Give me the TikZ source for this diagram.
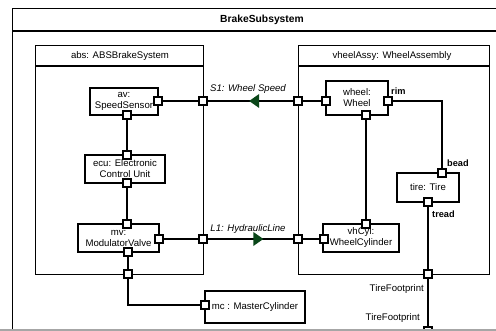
\documentclass[tikz,border=0pt]{standalone}
\usepackage{fontspec}
\setmainfont{Liberation Sans}
\usetikzlibrary{shapes.geometric}
\definecolor{arrowgreen}{RGB}{10,70,25}
\begin{document}
\begin{tikzpicture}[x=1pt,y=-1pt,
  txt/.style={font=\fontsize{9.6}{11}\selectfont, inner sep=0pt},
  lbl/.style={font=\fontsize{9.6}{11}\selectfont\itshape, inner sep=0pt},
  bl/.style={font=\fontsize{9.2}{11}\selectfont\bfseries, inner sep=0pt},
  partbox/.style={draw, line width=1.4pt, fill=white, inner sep=0pt, align=center,
                  font=\fontsize{9.6}{11}\selectfont},
  frame/.style={draw, line width=1.3pt, inner sep=0pt},
  port/.style={draw, line width=1.1pt, fill=white, minimum size=8pt, inner sep=0pt},
  wire/.style={line width=1.3pt},
  flow/.style={isosceles triangle, isosceles triangle apex angle=70, fill=arrowgreen,
               minimum height=10pt, minimum width=10pt, inner sep=0pt}]
\useasboundingbox (0,0) rectangle (496,331);
\clip (0,0) rectangle (496,331);
% outer frame
\node[frame, minimum width=520pt, minimum height=360pt, anchor=north west] (outer) at (12,8) {};
\draw[line width=1.3pt] (12,31) -- (496,31);
\node[font=\fontsize{10.3}{12}\selectfont\bfseries, inner sep=0pt] (title) at (262,20) {BrakeSubsystem};
% abs container
\node[frame, minimum width=168pt, minimum height=229pt, anchor=north west] (abs) at (35,45) {};
\draw[line width=1.3pt] (35,66) -- (203,66);
\node[txt] (abst) at (120,56) {abs: ABSBrakeSystem};
% wheelAssy container
\node[frame, minimum width=191pt, minimum height=229pt, anchor=north west] (wa) at (298,45) {};
\draw[line width=1.3pt] (298,66) -- (489,66);
\node[txt] (wat) at (392,56) {vheelAssy: WheelAssembly};
% parts
\node[partbox, minimum width=68pt, minimum height=27pt] (av) at (124,101.5) {av:\\SpeedSensor};
\node[partbox, minimum width=80pt, minimum height=28pt] (ecu) at (125,169) {ecu: Electronic\\Control Unit};
\node[partbox, minimum width=81pt, minimum height=28pt] (mv) at (118.5,238) {mv:\\ModulatorValve};
\node[partbox, minimum width=100pt, minimum height=32pt] (mc) at (255,307) {mc : MasterCylinder};
\node[partbox, minimum width=62pt, minimum height=34pt] (wheel) at (357,98) {wheel:\\Wheel};
\node[partbox, minimum width=62pt, minimum height=29pt] (tire) at (428,187.5) {tire: Tire};
\node[partbox, minimum width=76pt, minimum height=28pt] (whcyl) at (361,238) {vhCyl:\\WheelCylinder};
% ports
\node[port] (avr) at (158,101) {};
\node[port] (avb) at (127,115) {};
\node[port] (ecut) at (127,155) {};
\node[port] (ecub) at (127,183) {};
\node[port] (mvt) at (127,224) {};
\node[port] (mvr) at (159,239) {};
\node[port] (mvb) at (128,252) {};
\node[port] (absr1) at (203,101) {};
\node[port] (absr2) at (203,239) {};
\node[port] (absb) at (128,274) {};
\node[port] (mcp) at (205,305) {};
\node[port] (wal1) at (298,101) {};
\node[port] (wal2) at (298,239) {};
\node[port] (wab) at (428,274) {};
\node[port] (whl) at (326,101) {};
\node[port] (rim) at (388,101) {};
\node[port] (whb) at (366,115) {};
\node[port] (cylt) at (366,224) {};
\node[port] (cyll) at (324,239) {};
\node[port] (bead) at (442,173) {};
\node[port] (tread) at (428,202) {};
\node[port] (foot) at (428,331) {};
% wires
\draw[wire] (avr) -- (absr1);
\draw[wire] (absr1) -- (wal1);
\draw[wire] (wal1) -- (whl);
\draw[wire] (avb) -- (ecut);
\draw[wire] (ecub) -- (mvt);
\draw[wire] (mvr) -- (absr2);
\draw[wire] (absr2) -- (wal2);
\draw[wire] (wal2) -- (cyll);
\draw[wire] (mvb) -- (absb);
\draw[wire] (absb) |- (mcp);
\draw[wire] (whb) -- (cylt);
\draw[wire] (rim) -| (bead);
\draw[wire] (tread) -- (wab);
\draw[wire] (wab) -- (foot);
% flow arrows
\node[flow, shape border rotate=180] (f1) at (255.5,101) {};
\node[flow] (f2) at (257,239) {};
% labels
\node[lbl] (s1) at (248,89) {S1: Wheel Speed};
\node[lbl] (l1) at (248,229) {L1: HydraulicLine};
\node[bl, anchor=west] (rimt) at (391,91) {rim};
\node[bl, anchor=west] (beadt) at (447,163) {bead};
\node[bl, anchor=west] (treadt) at (432,214) {tread};
\node[txt, anchor=east] (tf1) at (424,289) {TireFootprint};
\node[txt, anchor=east] (tf2) at (420,318) {TireFootprint};
% bottom edge
\draw[gray!70, line width=1.5pt] (0,330) -- (496,330);
\end{tikzpicture}
\end{document}
